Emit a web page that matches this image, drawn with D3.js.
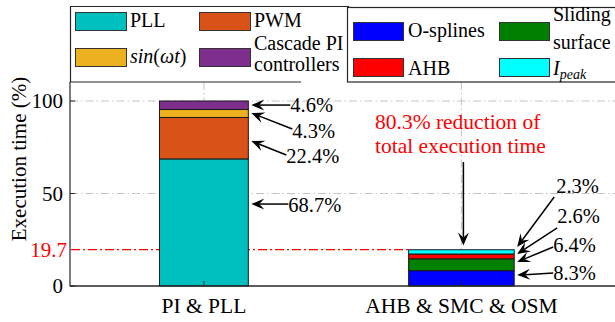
<!DOCTYPE html>
<html>
<head>
<meta charset="utf-8">
<script src="https://cdn.jsdelivr.net/npm/d3@7"></script>
</head>
<body style="margin:0">
<svg id="s" width="615" height="322"></svg>
<script>
// ---- data -------------------------------------------------------------
const categories = ["PI & PLL", "AHB & SMC & OSM"];
const piParts = ["PLL", "PWM", "sin(ωt)", "Cascade PI controllers"];
const piValues = [68.7, 22.4, 4.3, 4.6];
const smcParts = ["O-splines", "Sliding surface", "AHB", "Ipeak"];
const smcValues = [8.3, 6.4, 2.6, 2.3];
const yTicks = [0, 50, 100];
const proposedTotal = 19.7;
const reductionPct = 80.3;

// ---- styles -----------------------------------------------------------
const piColors = ["#00BFBF", "#D95319", "#EDB120", "#7E2F8E"];
const smcColors = ["#0000FF", "#008000", "#FF0000", "#00FFFF"];
const barWidths = [0.345, 0.41];
const FONT = "Liberation Serif";

const svg = d3.select("#s");
svg.append("rect").attr("width", 615).attr("height", 322).attr("fill", "#fff");

// every text node goes through here so it picks up the serif face
function label(parent, xPos, yPos, size, str) {
  return parent.append("text").attr("x", xPos).attr("y", yPos)
    .attr("font-size", size)
    .style("font-family", FONT)
    .attr("fill", "#000")
    .text(str);
}

const x = d3.scaleLinear().domain([0.48, 2.6]).range([70, 615.9]);
const y = d3.scaleLinear().domain([0, 110]).range([286, 82.5]);
const catPos = categories.map((c, i) => i + 1);

// ---- grid -------------------------------------------------------------
const grid = svg.append("g").attr("stroke", "#c4c4c4").attr("stroke-width", 1)
  .attr("stroke-dasharray", "8,3,1.5,3").attr("fill", "none");
yTicks.filter(t => t > 0).forEach(t => {
  grid.append("line").attr("x1", 70).attr("x2", 615).attr("y1", y(t)).attr("y2", y(t));
});
catPos.forEach(p => {
  grid.append("line").attr("x1", x(p)).attr("x2", x(p)).attr("y1", 82).attr("y2", 286);
});

// reference line at the proposed scheme's total
svg.append("line")
  .attr("x1", 71).attr("x2", x(2) - barWidths[1] * (x(1) - x(0)) / 2)
  .attr("y1", y(proposedTotal)).attr("y2", y(proposedTotal))
  .attr("stroke", "#FF0000").attr("stroke-width", 1.3)
  .attr("stroke-dasharray", "9,3,2,3");

// ---- stacked bars -----------------------------------------------------
function stackBar(values, colors, pos, width) {
  const unit = x(1) - x(0);
  const w = width * unit;
  let base = 0;
  const segs = values.map((v, i) => {
    const s = { y0: base, y1: base + v, color: colors[i] };
    base += v;
    return s;
  });
  svg.append("g").selectAll("rect").data(segs).join("rect")
    .attr("x", x(pos) - w / 2)
    .attr("width", w)
    .attr("y", d => y(d.y1))
    .attr("height", d => y(d.y0) - y(d.y1))
    .attr("fill", d => d.color)
    .attr("stroke", "#1a1a1a").attr("stroke-width", 1);
}
stackBar(piValues, piColors, catPos[0], barWidths[0]);
stackBar(smcValues, smcColors, catPos[1], barWidths[1]);

// ---- axes -------------------------------------------------------------
const axisColor = "#262626";
svg.append("line").attr("x1", 70).attr("x2", 70).attr("y1", 82).attr("y2", 286.5)
  .attr("stroke", axisColor).attr("stroke-width", 1.2);
svg.append("line").attr("x1", 70).attr("x2", 615).attr("y1", 286).attr("y2", 286)
  .attr("stroke", axisColor).attr("stroke-width", 1.5);

// y ticks and labels
yTicks.forEach(t => {
  svg.append("line").attr("x1", 70).attr("x2", 75).attr("y1", y(t)).attr("y2", y(t))
    .attr("stroke", axisColor);
  label(svg, 63, y(t), 21, t).attr("dy", "0.35em").attr("text-anchor", "end");
});
label(svg, 67, y(proposedTotal), 21, proposedTotal)
  .attr("dy", "0.35em").attr("text-anchor", "end").attr("fill", "#FF0000");

// x ticks and category labels
catPos.forEach((p, i) => {
  svg.append("line").attr("x1", x(p)).attr("x2", x(p)).attr("y1", 286).attr("y2", 281)
    .attr("stroke", axisColor);
  label(svg, x(p), 313, 21.5, categories[i]).attr("text-anchor", "middle");
});

label(svg, 0, 0, 21, "Execution time (%)")
  .attr("transform", "translate(26,159) rotate(-90)")
  .attr("text-anchor", "middle");

// ---- annotations ------------------------------------------------------
function arrow(x1, y1, x2, y2, color) {
  const ang = Math.atan2(y2 - y1, x2 - x1);
  const L = 13, W = 5.5, N = 8;
  const g = svg.append("g");
  g.append("line")
    .attr("x1", x1).attr("y1", y1)
    .attr("x2", x2 - Math.cos(ang) * N).attr("y2", y2 - Math.sin(ang) * N)
    .attr("stroke", color).attr("stroke-width", 1.5);
  g.append("path")
    .attr("d", `M0,0 L${-L},${-W} L${-N},0 L${-L},${W} Z`)
    .attr("transform", `translate(${x2},${y2}) rotate(${ang * 180 / Math.PI})`)
    .attr("fill", color);
}

// per-segment label layout: arrow tip / tail heights and text baseline (axis units),
// tail offset from the bar edge in px
const piLabelLayout = [
  { tip: 44.3, tail: 44.3, text: 40.0, dx: 40 },
  { tip: 78.4, tail: 70.8, text: 66.5, dx: 38 },
  { tip: 93.5, tail: 84.9, text: 80.0, dx: 44 },
  { tip: 97.8, tail: 97.8, text: 94.0, dx: 42 }
];
const smcLabelLayout = [
  { tip: 5.9, tail: 7.0, text: 3.2, dx: 39 },
  { tip: 13.0, tail: 21.1, text: 18.4, dx: 39 },
  { tip: 17.3, tail: 31.4, text: 34.1, dx: 43 },
  { tip: 21.1, tail: 48.1, text: 50.3, dx: 40 }
];

function labelBar(values, layout, pos, width, textShift) {
  const unit = x(1) - x(0);
  const edge = x(pos) + width * unit / 2;
  values.forEach((v, i) => {
    const l = layout[i];
    const tx = edge + l.dx;
    arrow(tx, y(l.tail), edge + 3, y(l.tip), "#000");
    label(svg, tx + textShift[i], y(l.text), 20.5, v + "%");
  });
}
labelBar(piValues, piLabelLayout, catPos[0], barWidths[0], [0, 0, 0, 0]);
labelBar(smcValues, smcLabelLayout, catPos[1], barWidths[1], [0, 0, 0, 2]);

// reduction note with arrow pointing at the proposed bar
label(svg, 375, 129, 21.5, `${reductionPct}% reduction of`).attr("fill", "#FF0000");
label(svg, 375, 153, 21.5, "total execution time").attr("fill", "#FF0000");
arrow(x(2) + 2, 162, x(2) + 2, y(proposedTotal) - 4, "#000");

// ---- legends ----------------------------------------------------------
const legFont = 20;
// left legend (PI & PLL parts); its lower edge doubles as the axes top
svg.append("rect").attr("x", 70).attr("y", 6).attr("width", 278).attr("height", 76)
  .attr("fill", "#fff");
svg.append("path").attr("d", "M70.5,82 V6.5 H348.5 V82")
  .attr("fill", "none").attr("stroke", axisColor).attr("stroke-width", 1.2);
svg.append("line").attr("x1", 70).attr("x2", 301).attr("y1", 82).attr("y2", 82)
  .attr("stroke", axisColor).attr("stroke-width", 1.2);

const leg1 = [
  { sx: 75, sy: 12, c: piColors[0] },
  { sx: 199, sy: 12, c: piColors[1] },
  { sx: 75, sy: 48, c: piColors[2] },
  { sx: 199, sy: 48, c: piColors[3] }
];
leg1.forEach(d => {
  svg.append("rect").attr("x", d.sx + 0.5).attr("y", d.sy + 0.5).attr("width", 51).attr("height", 18)
    .attr("fill", d.c).attr("stroke", "#333").attr("stroke-width", 1);
});
label(svg, 130, 27, legFont, piParts[0]);
label(svg, 254, 27, legFont, piParts[1]);
const sinT = label(svg, 130, 63, legFont, null);
sinT.append("tspan").attr("font-style", "italic").text("sin");
sinT.append("tspan").text("(");
sinT.append("tspan").attr("font-style", "italic").text("ωt");
sinT.append("tspan").text(")");
const casc = piParts[3].split(" ");
label(svg, 254, 50, legFont, casc.slice(0, 2).join(" "));
label(svg, 254, 71, legFont, casc[2]);

// right legend (proposed scheme parts)
svg.append("rect").attr("x", 347.5).attr("y", 7.5).attr("width", 280).attr("height", 74.5)
  .attr("fill", "#fff").attr("stroke", axisColor).attr("stroke-width", 1.2);
const leg2 = [
  { sx: 353, sy: 22, c: smcColors[0] },
  { sx: 499, sy: 22, c: smcColors[1] },
  { sx: 353, sy: 58, c: smcColors[2] },
  { sx: 499, sy: 58, c: smcColors[3] }
];
leg2.forEach(d => {
  svg.append("rect").attr("x", d.sx + 0.5).attr("y", d.sy + 0.5).attr("width", 50).attr("height", 18)
    .attr("fill", d.c).attr("stroke", "#333").attr("stroke-width", 1);
});
label(svg, 408, 37, legFont, smcParts[0]);
const slid = smcParts[1].split(" ");
label(svg, 553, 21, legFont, slid[0]);
label(svg, 553, 49, legFont, slid[1]);
label(svg, 408, 75, legFont, smcParts[2]);
const ip = label(svg, 553, 75, legFont, null).attr("font-style", "italic");
ip.append("tspan").text(smcParts[3].charAt(0));
ip.append("tspan").attr("font-size", 14).attr("dy", 4).text(smcParts[3].slice(1));
</script>
</body>
</html>
